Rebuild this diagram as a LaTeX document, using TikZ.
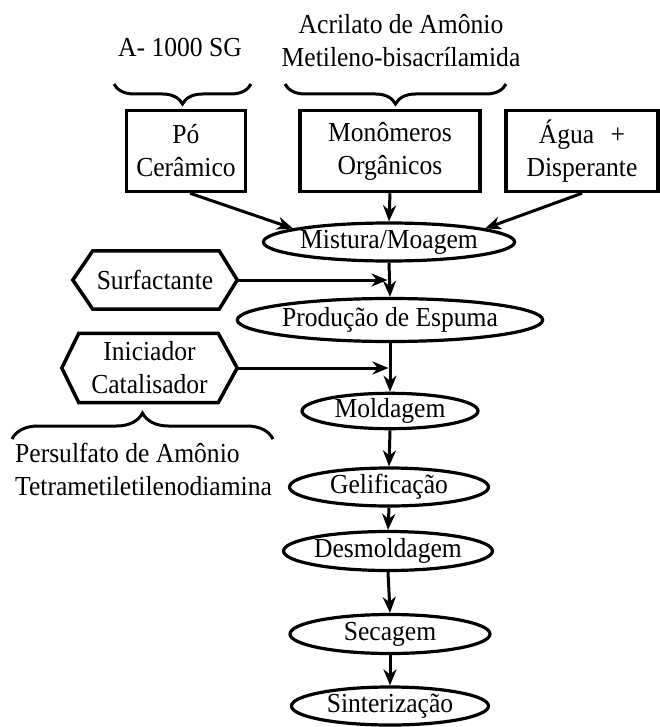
\documentclass[tikz,border=0pt]{standalone}
\usepackage{fontspec}
\setmainfont[FakeStretch=0.93]{Liberation Serif}
\usetikzlibrary{shapes.geometric,arrows.meta,decorations.pathreplacing}
\begin{document}
\begin{tikzpicture}[x=1pt,y=-1pt,
  font=\fontsize{27.5}{33}\selectfont,
  box/.style={draw,line width=3.5pt,inner sep=0pt,align=center},
  proc/.style={draw,ellipse,line width=3.2pt,inner sep=0pt},
  lbl/.style={inner sep=0pt,align=center},
  arr/.style={line width=3pt,-{Stealth[length=16pt,width=13pt,inset=5pt]}},
  brc/.style={line width=3pt,decorate,decoration={brace,amplitude=20pt}},
  hexline/.style={line width=3.5pt,line join=miter}]
\useasboundingbox (0,0) rectangle (660,727);

% top labels
\node[lbl] (lblA) at (180,47) {A- 1000 SG};
\node[lbl] (lblB) at (401,41) {Acrilato de Amônio\\Metileno-bisacrílamida};

% braces
\draw[brc] (251,84) -- (114,84);
\draw[brc] (506,84) -- (285,84);

% boxes
\node[box,minimum width=119,minimum height=81] (po) at (186,151) {Pó\\Cerâmico};
\node[box,minimum width=180,minimum height=81] (mono) at (390,151) {Monômeros\\Orgânicos};
\node[box,minimum width=152,minimum height=81] (agua) at (582,151) {Água\hspace{0.6em}+\\Disperante};

% process ellipses
\node[proc,minimum width=248,minimum height=38] (mix) at (389,242) {Mistura/Moagem};
\node[proc,minimum width=302,minimum height=43] (esp) at (390,320) {Produção de Espuma};
\node[proc,minimum width=176,minimum height=35] (mold) at (390,411) {Moldagem};
\node[proc,minimum width=199,minimum height=38] (gel) at (389,487) {Gelificação};
\node[proc,minimum width=194,minimum height=39] (desm) at (388,551) {Desmoldagem};
\node[proc,minimum width=200,minimum height=39] (sec) at (390,634) {Secagem};
\node[proc,minimum width=197,minimum height=38] (sint) at (390,706) {Sinterização};

% hexagons
\node[lbl,minimum width=164,minimum height=58] (surf) at (155,280) {Surfactante};
\draw[hexline] (surf.west) -- ([xshift=20]surf.north west) -- ([xshift=-18]surf.north east)
  -- (surf.east) -- ([xshift=-18]surf.south east) -- ([xshift=20]surf.south west) -- cycle;
\node[lbl,minimum width=175,minimum height=69] (ini) at (149.5,368) {Iniciador\\Catalisador};
\draw[hexline] (ini.west) -- ([xshift=17]ini.north west) -- ([xshift=-19]ini.north east)
  -- (ini.east) -- ([xshift=-19]ini.south east) -- ([xshift=17]ini.south west) -- cycle;

% bottom brace and label
\draw[brc,decoration={brace,amplitude=26pt}] (12,439) -- (273,439);
\node[lbl,align=left,anchor=north west] (lblC) at (15,443) {Persulfato de Amônio\\Tetrametiletilenodiamina};

% connectors
\draw[arr] ([xshift=4]po.south) -- (mix.172);
\draw[arr] (mono.south) -- (mix.north);
\draw[arr] (agua.south) -- (mix.8);
\draw[arr] (mix.south) -- (esp.north);
\draw[arr,shorten >=1.5pt] (surf.east) -- (surf.east -| mix.south);
\draw[arr] (esp.south) -- (mold.north);
\draw[arr,shorten >=1.5pt] (ini.east) -- (ini.east -| esp.south);
\draw[arr] (mold.south) -- (gel.north);
\draw[arr] (gel.south) -- (desm.north);
\draw[arr] (desm.south) -- (sec.north);
\draw[arr] (sec.south) -- (sint.north);
\end{tikzpicture}
\end{document}
